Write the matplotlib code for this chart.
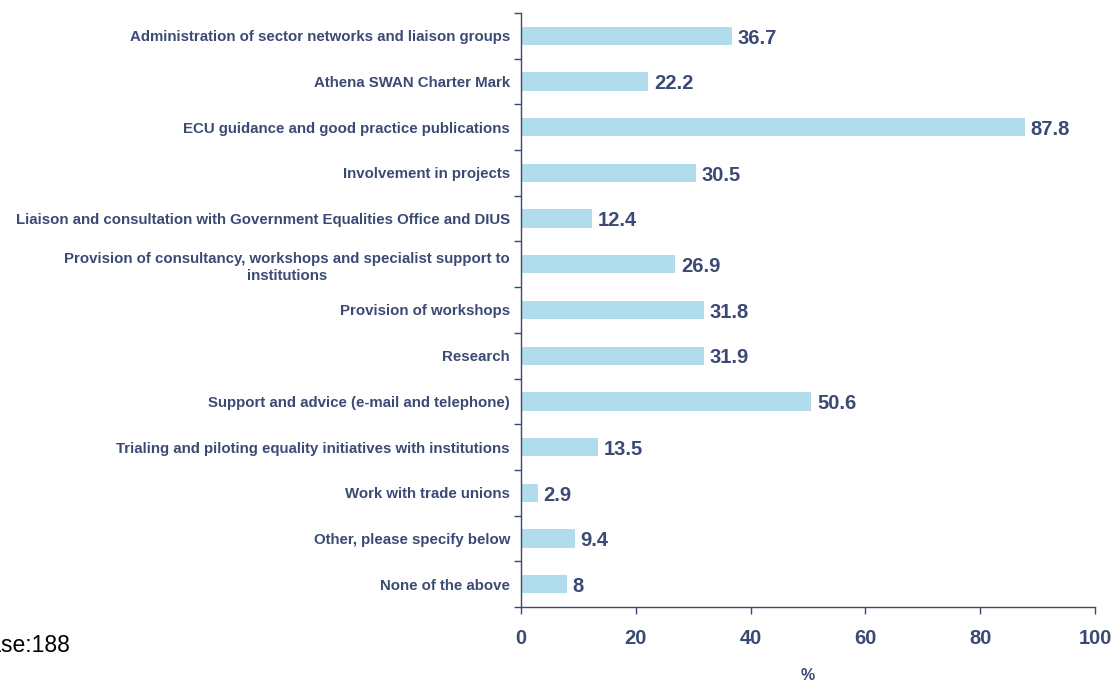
import matplotlib.pyplot as plt
import numpy as np

categories = [
    "Administration of sector networks and liaison groups",
    "Athena SWAN Charter Mark",
    "ECU guidance and good practice publications",
    "Involvement in projects",
    "Liaison and consultation with Government Equalities Office and DIUS",
    "Provision of consultancy, workshops and specialist support to\ninstitutions",
    "Provision of workshops",
    "Research",
    "Support and advice (e-mail and telephone)",
    "Trialing and piloting equality initiatives with institutions",
    "Work with trade unions",
    "Other, please specify below",
    "None of the above",
]
values = [36.7, 22.2, 87.8, 30.5, 12.4, 26.9, 31.8, 31.9, 50.6, 13.5, 2.9, 9.4, 8]
x_ticks = [0, 20, 40, 60, 80, 100]

navy = "#3b4a75"
bar_color = "#b0dcec"

plt.rcParams['font.family'] = ['Liberation Sans', 'DejaVu Sans']

fig = plt.figure(figsize=(11.17, 6.84), dpi=100)
ax = fig.add_axes([521 / 1117, 1 - 607 / 684, (1095 - 521) / 1117, (607 - 13) / 684])

pos = np.arange(len(categories))
ax.barh(pos, values, height=0.4, color=bar_color, edgecolor='none')

for p, v in zip(pos, values):
    ax.text(v + 1.0, p + 0.05, f"{v:g}", va='center', ha='left',
            fontsize=14.5, fontweight='bold', color=navy)

ax.set_xlim(0, 100)
ax.set_ylim(len(categories) - 0.5, -0.5)

# category labels at bar centres, tick marks between categories
ax.set_yticks(pos)
ax.set_yticklabels(categories, fontsize=10.8, fontweight='bold', color=navy,
                   multialignment='center', linespacing=1.25)
ax.tick_params(axis='y', which='major', length=0, pad=8)
ax.set_yticks(np.arange(-0.5, len(categories)), minor=True)
ax.tick_params(axis='y', which='minor', length=5, width=1, color=navy, direction='out')

ax.set_xticks(x_ticks)
ax.set_xticklabels([str(t) for t in x_ticks], fontsize=14.5, fontweight='bold', color=navy)
ax.tick_params(axis='x', length=5, width=1, color=navy, direction='out', pad=11)

ax.set_xlabel('%', fontsize=11.5, fontweight='bold', color=navy, labelpad=14)

for side in ('top', 'right'):
    ax.spines[side].set_visible(False)
for side in ('left', 'bottom'):
    ax.spines[side].set_color(navy)
    ax.spines[side].set_linewidth(1)

fig.text(70 / 1117, 1 - 645 / 684, "Base:188", ha='right', va='center',
         fontsize=16.5, color='black')

fig.savefig('out.png', dpi=100)
